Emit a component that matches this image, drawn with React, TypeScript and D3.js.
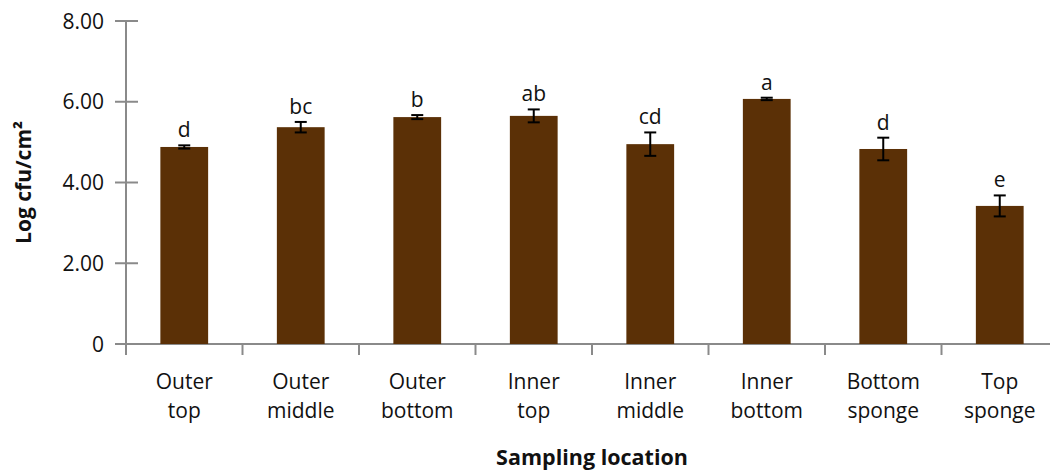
import * as d3 from 'd3';

const categories = [
  ['Outer', 'top'],
  ['Outer', 'middle'],
  ['Outer', 'bottom'],
  ['Inner', 'top'],
  ['Inner', 'middle'],
  ['Inner', 'bottom'],
  ['Bottom', 'sponge'],
  ['Top', 'sponge'],
];
const means = [4.88, 5.37, 5.62, 5.65, 4.95, 6.07, 4.83, 3.42];
const errors = [0.04, 0.13, 0.05, 0.16, 0.29, 0.03, 0.28, 0.26];
const letters = ['d', 'bc', 'b', 'ab', 'cd', 'a', 'd', 'e'];
const yTicks = [0, 2, 4, 6, 8];

const W = 1050;
const H = 472;
const left = 126;
const right = 1058;
const top = 21;
const bottom = 344;
const FONT = '"Open Sans", "Noto Sans", sans-serif';
const AXIS = '#8a8a8a';
const BAR = '#5b3006';

export default function App() {
  const keys = categories.map(c => c.join(' '));
  const x = d3.scaleBand().domain(keys).range([left, right]);
  const y = d3.scaleLinear().domain([0, 8]).range([bottom, top]);
  const bw = x.bandwidth() * 0.41;
  const fmt = (v: number) => (v === 0 ? '0' : d3.format('.2f')(v));

  return (
    <svg width={W} height={H} style={{ position: 'absolute', left: 0, top: 0 }} fontFamily={FONT}>
      {/* y axis */}
      <line x1={left} x2={left} y1={y(8)} y2={bottom + 11} stroke={AXIS} strokeWidth={2} />
      {yTicks.map(t => (
        <g key={t}>
          <line x1={left - 11} x2={left + 12} y1={y(t)} y2={y(t)} stroke={AXIS} strokeWidth={2} />
          <text x={104} y={y(t)} dy="0.36em" textAnchor="end" fontSize={21} fill="#111">
            {fmt(t)}
          </text>
        </g>
      ))}
      {/* x axis */}
      <line x1={left - 11} x2={W} y1={bottom} y2={bottom} stroke={AXIS} strokeWidth={2} />
      {keys.map(k => (
        <line key={k} x1={x(k)!} x2={x(k)!} y1={bottom} y2={bottom + 11} stroke={AXIS} strokeWidth={2} />
      ))}
      {/* bars */}
      {keys.map((k, i) => {
        const cx = x(k)! + x.bandwidth() / 2;
        const eTop = y(means[i] + errors[i]);
        const eBot = y(means[i] - errors[i]);
        return (
          <g key={k}>
            <rect x={cx - bw / 2} y={y(means[i])} width={bw} height={bottom - y(means[i])} fill={BAR} />
            <line x1={cx} x2={cx} y1={eTop} y2={eBot} stroke="#000" strokeWidth={2} />
            <line x1={cx - 6} x2={cx + 6} y1={eTop} y2={eTop} stroke="#000" strokeWidth={2} />
            <line x1={cx - 6} x2={cx + 6} y1={eBot} y2={eBot} stroke="#000" strokeWidth={2} />
            <text x={cx} y={eTop - 8} textAnchor="middle" fontSize={21} fill="#111">
              {letters[i]}
            </text>
            <text x={cx} y={389} textAnchor="middle" fontSize={21} fill="#111">
              {categories[i][0]}
            </text>
            <text x={cx} y={418} textAnchor="middle" fontSize={21} fill="#111">
              {categories[i][1]}
            </text>
          </g>
        );
      })}
      {/* axis titles */}
      <text x={(left + right) / 2} y={465} textAnchor="middle" fontSize={21.5} fontWeight="bold" fill="#111">
        Sampling location
      </text>
      <text
        transform={`translate(31, ${(top + bottom) / 2}) rotate(-90)`}
        textAnchor="middle"
        fontSize={21}
        fontWeight="bold"
        fill="#111"
      >
        Log cfu/cm²
      </text>
    </svg>
  );
}
